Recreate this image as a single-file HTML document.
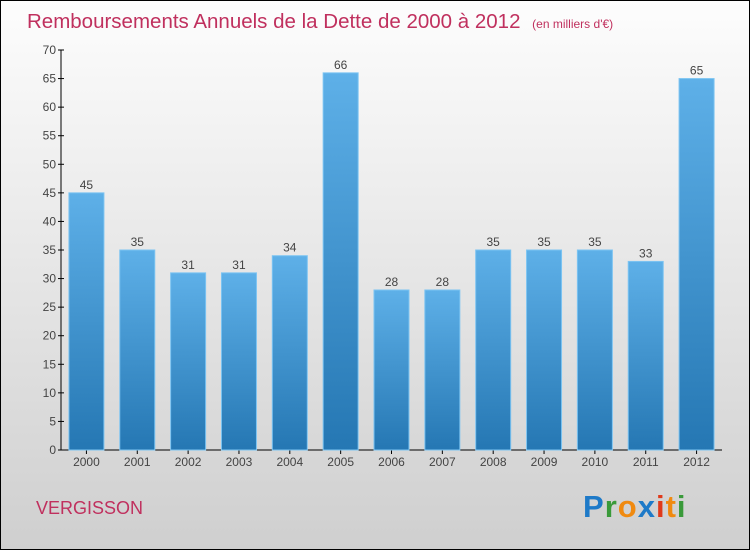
<!DOCTYPE html>
<html><head><meta charset="utf-8"><style>
html,body{margin:0;padding:0}
body{width:750px;height:550px;overflow:hidden;font-family:"Liberation Sans",sans-serif}
#wrap{position:absolute;left:0;top:0;width:748px;height:548px;border:1px solid #000;background:linear-gradient(#fdfdfd,#cfcfcf)}
</style></head><body>
<div id="wrap"></div>
<svg id="chart" width="750" height="550" style="position:absolute;left:0;top:0">
<defs><linearGradient id="bg" x1="0" y1="0" x2="0" y2="1"><stop offset="0" stop-color="#5eb0e8"/><stop offset="1" stop-color="#2577b3"/></linearGradient></defs>
<text x="27" y="28" font-size="20.5" fill="#c0305e">Remboursements Annuels de la Dette de 2000 à 2012 <tspan font-size="12" dx="6">(en milliers d'€)</tspan></text>
<text x="36" y="514" font-size="18" fill="#c0305e">VERGISSON</text>
<g font-size="31" font-weight="bold" font-family="Liberation Sans, sans-serif">
<text x="583" y="517" letter-spacing="1"><tspan fill="#1e7ac8">P</tspan><tspan fill="#3a9a3a">r</tspan><tspan fill="#f08a10">o</tspan><tspan fill="#1e7ac8">x</tspan><tspan fill="#e03a1a">i</tspan><tspan fill="#f08a10">t</tspan><tspan fill="#3a9a3a">i</tspan></text></g>
<g id="axes"></g><g id="bars"></g>
</svg>
<script>
const categories=["2000","2001","2002","2003","2004","2005","2006","2007","2008","2009","2010","2011","2012"];
const values=[45,35,31,31,34,66,28,28,35,35,35,33,65];
const yTicks=[0,5,10,15,20,25,30,35,40,45,50,55,60,65,70];
const NS="http://www.w3.org/2000/svg";
const y0=450,yTop=50,yMax=70,xL=61,xR=722;
const y=v=>y0-(v/yMax)*(y0-yTop);
const step=(xR-xL)/categories.length;
const xc=i=>xL+step*(i+0.5);
function mk(t,a,p){const e=document.createElementNS(NS,t);for(const k in a)e.setAttribute(k,a[k]);p.appendChild(e);return e;}
const ax=document.getElementById('axes'),bg=document.getElementById('bars');
let l=mk('line',{x1:xL,y1:yTop,x2:xL,y2:y0,stroke:'#000'},ax);


l=mk('line',{x1:xL,y1:y0,x2:xR,y2:y0,stroke:'#000'},ax);


yTicks.forEach(v=>{
 mk('line',{x1:xL-3,y1:y(v),x2:xL+3,y2:y(v),stroke:'#000'},ax);
 const t=mk('text',{x:xL-5,y:y(v)+4,'text-anchor':'end','font-size':12,fill:'#444'},ax);
 t.textContent=v;
 
 
});
categories.forEach((c,i)=>{
 const v=values[i],w=35;
 const r=mk('rect',{x:xc(i)-w/2,y:y(v),width:w,height:y0-y(v),fill:'url(#bg)',stroke:'#7cc4f2','stroke-width':1},bg);
 
 
 const t=mk('text',{x:xc(i),y:y(v)-4,'text-anchor':'middle','font-size':12,fill:'#444'},bg);
 t.textContent=v;
 
 
 mk('line',{x1:xc(i),y1:y0,x2:xc(i),y2:y0+4,stroke:'#000'},ax);
 const xt=mk('text',{x:xc(i),y:y0+16,'text-anchor':'middle','font-size':12,fill:'#444'},ax);
 xt.textContent=c;
 
 
});
</script>
</body></html>
